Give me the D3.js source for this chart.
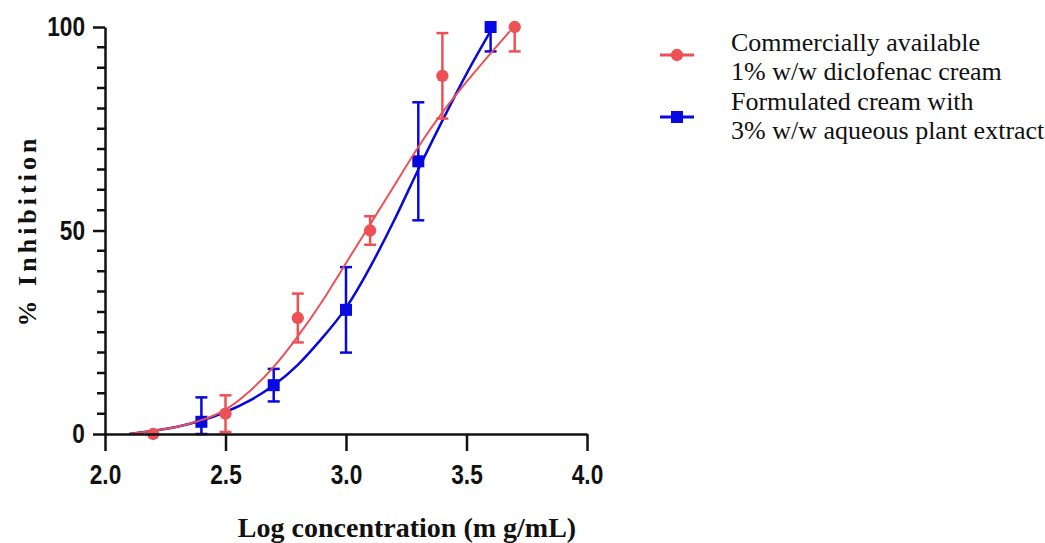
<!DOCTYPE html>
<meta charset="utf-8">
<style>
body { margin: 0; background: #fff; }
svg { display: block; }
.tick text { font: bold 27px "Liberation Sans", Arial, sans-serif; fill: #111; }
.axis path, .axis line { stroke: #111; stroke-width: 2.5px; }
.title { font: bold 28px "Liberation Serif", "Times New Roman", serif; fill: #111; }
.legend text { font: 26px "Liberation Serif", "Times New Roman", serif; fill: #111; }
</style>
<body>
<div id="chart"></div>
<script src="https://cdn.jsdelivr.net/npm/d3@7"></script>
<script>
// measured points (log conc, % inhibition, error)
var redX = [2.2, 2.5, 2.8, 3.1, 3.4, 3.7];
var redY = [0, 5, 28.5, 50, 88, 100];
var redErr = [0, 4.5, 6, 3.5, 10.5, 6];

var blueX = [2.4, 2.7, 3.0, 3.3, 3.6];
var blueY = [3, 12, 30.5, 67, 100];
var blueErr = [6, 4, 10.5, 14.5, 6];

// fitted curves
var redCurveX = [2.1, 2.2, 2.3, 2.4, 2.5, 2.6, 2.7, 2.8, 2.9, 3.0, 3.1, 3.2, 3.3, 3.4, 3.5, 3.6, 3.68];
var redCurveY = [0, 0.8, 1.8, 3.4, 6, 10.5, 16.5, 24, 32.5, 42, 51.5, 61, 70.5, 79, 86.5, 93.5, 99];
var blueCurveX = [2.1, 2.2, 2.3, 2.4, 2.5, 2.6, 2.7, 2.8, 2.9, 3.0, 3.1, 3.2, 3.3, 3.4, 3.5, 3.6];
var blueCurveY = [0, 0.8, 1.8, 3.3, 5.4, 8.2, 12, 17, 23.5, 31, 41, 52.5, 65, 77, 88.5, 99];

var xTicks = [2.0, 2.5, 3.0, 3.5, 4.0];
var yTicks = [0, 50, 100];
var yMinor = [5, 10, 15, 20, 25, 30, 35, 40, 45, 55, 60, 65, 70, 75, 80, 85, 90, 95];
var legendLabels = [["Commercially available", "1% w/w diclofenac cream"],
                    ["Formulated cream with", "3% w/w aqueous plant extract"]];

var red = "#ee5155", blue = "#0808e0";

var width = 1045, height = 543;
var svg = d3.select("#chart").append("svg")
    .attr("width", width).attr("height", height);

var x = d3.scaleLinear().domain([2, 4]).range([105, 587]);
var y = d3.scaleLinear().domain([0, 100]).range([434, 27]);

// narrow-looking tick numbers
function squeeze(sel) {
  sel.selectAll(".tick text").each(function() {
    var w = this.getComputedTextLength();
    d3.select(this).attr("textLength", w * 0.84).attr("lengthAdjust", "spacingAndGlyphs");
  });
}

// titles
svg.append("text").attr("class", "title")
    .attr("transform", "translate(36," + y(50) + ") rotate(-90)")
    .attr("text-anchor", "middle")
    .style("font-size", "26px")
    .style("letter-spacing", "4px")
    .text("% Inhibition");
svg.append("text").attr("class", "title")
    .attr("x", 407).attr("y", 537)
    .attr("text-anchor", "middle")
    .text("Log concentration (m g/mL)");

var line = d3.line()
    .x(function(d) { return x(d[0]); })
    .y(function(d) { return y(d[1]); })
    .curve(d3.curveNatural);

function series(xs, ys, errs, cx, cy, color, shape, curveW) {
  var g = svg.append("g");
  g.append("path")
    .datum(d3.zip(cx, cy))
    .attr("d", line)
    .attr("fill", "none").attr("stroke", color).attr("stroke-width", curveW);

  var pts = d3.zip(xs, ys, errs);
  var eb = g.selectAll(".eb").data(pts).enter().append("g")
    .attr("stroke", color).attr("stroke-width", 2.5);
  eb.each(function(d) {
    var s = d3.select(this);
    var top = Math.min(d[1] + d[2], 100), bot = Math.max(d[1] - d[2], 0);
    s.append("line").attr("x1", x(d[0])).attr("x2", x(d[0]))
      .attr("y1", y(top)).attr("y2", y(bot));
    if (d[1] + d[2] <= 100 && d[2] > 0)
      s.append("line").attr("x1", x(d[0]) - 6).attr("x2", x(d[0]) + 6)
        .attr("y1", y(top)).attr("y2", y(top));
    if (d[2] > 0)
      s.append("line").attr("x1", x(d[0]) - 6).attr("x2", x(d[0]) + 6)
        .attr("y1", y(bot)).attr("y2", y(bot));
  });

  g.selectAll(".pt").data(pts).enter().append("path")
    .attr("transform", function(d) { return "translate(" + x(d[0]) + "," + y(d[1]) + ")"; })
    .attr("d", d3.symbol().type(shape).size(shape === d3.symbolSquare ? 144 : 120))
    .attr("fill", color);
}

series(blueX, blueY, blueErr, blueCurveX, blueCurveY, blue, d3.symbolSquare, 2.5);
series(redX, redY, redErr, redCurveX, redCurveY, red, d3.symbolCircle, 2);

// legend
var legend = svg.append("g").attr("class", "legend");
[[red, d3.symbolCircle, 55], [blue, d3.symbolSquare, 117]].forEach(function(it, i) {
  legend.append("line").attr("x1", 660).attr("x2", 694)
    .attr("y1", it[2]).attr("y2", it[2])
    .attr("stroke", it[0]).attr("stroke-width", 3);
  legend.append("path")
    .attr("transform", "translate(677," + it[2] + ")")
    .attr("d", d3.symbol().type(it[1]).size(it[1] === d3.symbolSquare ? 144 : 120))
    .attr("fill", it[0]);
  legendLabels[i].forEach(function(t, j) {
    legend.append("text").attr("x", 731).attr("y", 51 + i * 59 + j * 29).text(t);
  });
});

// axes drawn last so they sit on top
var xAxis = svg.append("g").attr("class", "axis")
    .attr("transform", "translate(0," + y(0) + ")")
    .call(d3.axisBottom(x).tickValues(xTicks).tickFormat(d3.format(".1f")).tickSize(17).tickSizeOuter(0).tickPadding(14));
squeeze(xAxis);

var yAxis = svg.append("g").attr("class", "axis")
    .attr("transform", "translate(" + x(2) + ",0)")
    .call(d3.axisLeft(y).tickValues(yTicks).tickSize(12).tickSizeOuter(0).tickPadding(8));
squeeze(yAxis);

// minor y ticks as one path
svg.append("path")
    .attr("d", yMinor.map(function(d) { return "M" + (x(2) - 8) + "," + y(d) + "H" + x(2); }).join(""))
    .attr("fill", "none")
    .attr("stroke", "#111")
    .attr("stroke-width", 2.5);
</script>
